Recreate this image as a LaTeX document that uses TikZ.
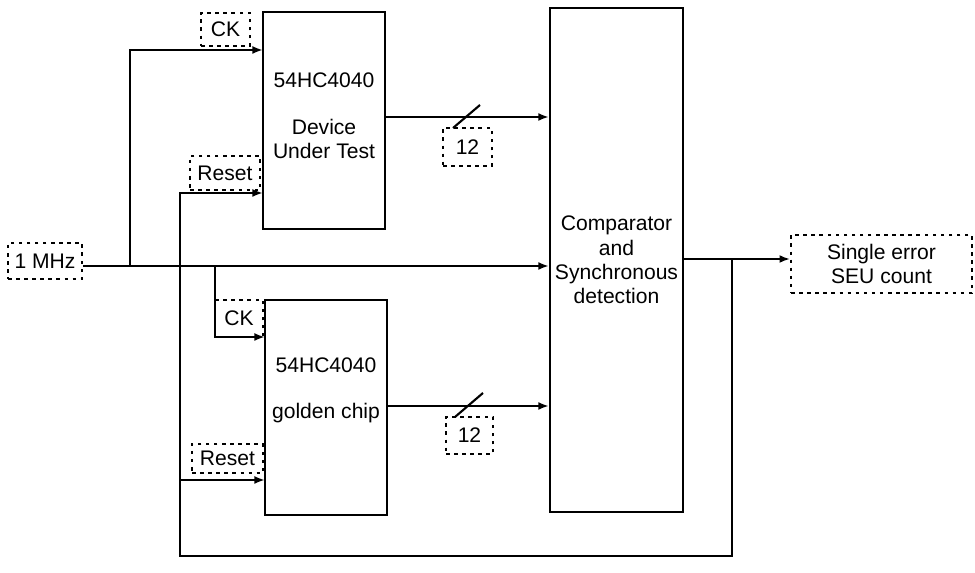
\documentclass[tikz,border=0pt]{standalone}
\usepackage{fontspec}
\setmainfont{Liberation Sans}
\usetikzlibrary{arrows.meta, positioning}

\tikzset{
    block/.style={draw, line width=1.2pt, inner sep=0pt, align=center},
    lbl/.style={draw, line width=1pt, dash pattern=on 2pt off 2.6pt, inner sep=0pt, align=center},
    txt/.style={inner sep=0pt, align=center},
    wire/.style={line width=1.2pt}
}

\begin{document}
\begin{tikzpicture}[x=0.02cm, y=-0.02cm, >={Latex[length=6pt,width=4.5pt]},
    font=\fontsize{12}{13.8}\selectfont]
    \useasboundingbox (0,0) rectangle (975,573);

    % blocks
    \node[block, minimum width=2.44cm, minimum height=4.34cm] (dut) at (324,120.5) {};
    \node[block, minimum width=2.44cm, minimum height=4.30cm] (gold) at (326,407.5) {};
    \node[block, minimum width=2.66cm, minimum height=10.08cm] (cmp) at (616.5,260)
        {Comparator\\and\\Synchronous\\detection};
    \node[txt] (dutname) at (324,80) {54HC4040};
    \node[txt] (dutrole) at (324,139) {Device\\Under Test};
    \node[txt] (goldname) at (326,365) {54HC4040};
    \node[txt] (goldrole) at (326,413) {golden chip};

    % dashed labels
    \node[lbl, minimum width=1.48cm, minimum height=0.72cm] (clk) at (45,261) {1 MHz};
    \node[lbl, minimum width=0.98cm, minimum height=0.66cm] (ckA) at (225.5,29.5) {CK};
    \node[lbl, minimum width=1.40cm, minimum height=0.68cm] (rstA) at (225,173) {Reset};
    \node[lbl, minimum width=0.96cm, minimum height=0.74cm] (ckB) at (239,318.5) {CK};
    \node[lbl, minimum width=1.42cm, minimum height=0.58cm] (rstB) at (227.5,458.5) {Reset};
    \node[lbl, minimum width=0.98cm, minimum height=0.76cm] (bitsA) at (467.5,147) {12};
    \node[lbl, minimum width=0.94cm, minimum height=0.74cm] (bitsB) at (469.5,435.5) {12};
    \node[lbl, minimum width=3.62cm, minimum height=1.16cm] (seu) at (881.5,264) {Single error\\SEU count};

    % junctions and pins
    \coordinate (src) at (83,266);
    \coordinate (t1) at (130,266);
    \coordinate (t2) at (215,266);
    \coordinate (dutck) at (263,50);
    \coordinate (dutrst) at (263,193);
    \coordinate (goldck) at (265,337);
    \coordinate (goldrst) at (265,480);
    \coordinate (dutq) at (385,117);
    \coordinate (goldq) at (387,406);
    \coordinate (cmpout) at (683,259);
    \coordinate (outj) at (732,259);
    \coordinate (rb) at (180,556);

    % clock
    \draw[wire, ->] (src) -- (src -| cmp.west);
    \draw[wire, ->] (t1) |- (dutck);
    \draw[wire, ->] (t2) |- (goldck);

    % counter outputs
    \draw[wire, ->] (dutq) -- (dutq -| cmp.west);
    \draw[wire, ->] (goldq) -- (goldq -| cmp.west);
    \draw[wire] (453,128) -- (480,105);
    \draw[wire] (455,417) -- (483,393);

    % result and reset loop
    \draw[wire, ->] (cmpout) -- (cmpout -| seu.west);
    \draw[wire, ->] (outj) |- (rb) |- (dutrst);
    \draw[wire, ->] (rb |- goldrst) -- (goldrst);
\end{tikzpicture}
\end{document}
